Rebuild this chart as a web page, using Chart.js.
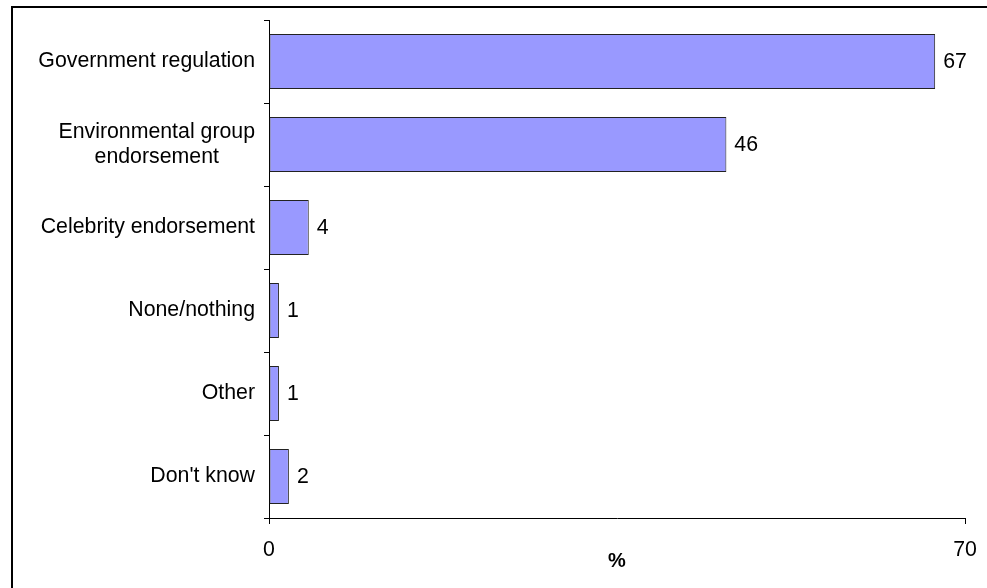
<!DOCTYPE html>
<html>
<head>
<meta charset="utf-8">
<script src="https://cdn.jsdelivr.net/npm/chart.js@4"></script>
<style>
  body { margin: 0; background: #fff; overflow: hidden; }
  #frame { position: absolute; left: 11px; top: 6px; width: 2000px; height: 2000px; border: 2px solid #000; }
  #wrap { position: absolute; left: 0; top: 0; width: 987px; height: 588px; }
</style>
</head>
<body>
<div id="frame"></div>
<div id="wrap"><canvas id="chart" width="987" height="588"></canvas></div>
<script>
var categories = [
  'Government regulation',
  ['Environmental group', 'endorsement'],
  'Celebrity endorsement',
  'None/nothing',
  'Other',
  "Don't know"
];
var values = [67, 46, 4, 1, 1, 2];
var xTicks = [0, 70];

var FONT = '"Liberation Sans", Arial, sans-serif';

// category names: single lines right aligned, wrapped ones centred on each other
var categoryLabels = {
  id: 'categoryLabels',
  afterDraw: function (chart) {
    var ctx = chart.ctx;
    var yScale = chart.scales.y;
    var rightX = 255;
    var lineH = 25;
    ctx.save();
    ctx.font = '21.3px ' + FONT;
    ctx.fillStyle = '#000';
    ctx.textBaseline = 'middle';
    for (var i = 0; i < categories.length; i++) {
      var y = yScale.getPixelForValue(i);
      var lines = Array.isArray(categories[i]) ? categories[i] : [categories[i]];
      if (lines.length == 1) {
        ctx.textAlign = 'right';
        ctx.fillText(lines[0], rightX, y);
      } else {
        var maxW = 0;
        lines.forEach(function (l) { maxW = Math.max(maxW, ctx.measureText(l).width); });
        ctx.textAlign = 'center';
        var startY = y - (lines.length - 1) * lineH / 2;
        for (var j = 0; j < lines.length; j++) {
          ctx.fillText(lines[j], rightX - maxW / 2, startY + j * lineH);
        }
      }
    }
    ctx.restore();
  }
};

// value printed just past the end of each bar
var valueLabels = {
  id: 'valueLabels',
  afterDatasetsDraw: function (chart) {
    var ctx = chart.ctx;
    var meta = chart.getDatasetMeta(0);
    ctx.save();
    ctx.font = '21.3px ' + FONT;
    ctx.fillStyle = '#000';
    ctx.textAlign = 'left';
    ctx.textBaseline = 'middle';
    meta.data.forEach(function (bar, i) {
      ctx.fillText(String(values[i]), bar.x + 8, bar.y + 1);
    });
    ctx.restore();
  }
};

var ctx = document.getElementById('chart').getContext('2d');
var myChart = new Chart(ctx, {
  type: 'bar',
  data: {
    labels: categories,
    datasets: [{
      data: values,
      backgroundColor: '#9999ff',
      borderColor: '#222',
      borderWidth: 1,
      borderSkipped: false,
      categoryPercentage: 1,
      barPercentage: 0.66
    }]
  },
  options: {
    indexAxis: 'y',
    responsive: false,
    animation: false,
    devicePixelRatio: 1,
    layout: { padding: { left: 0, right: 22, top: 20, bottom: 0 } },
    plugins: {
      legend: { display: false },
      tooltip: { enabled: false }
    },
    scales: {
      x: {
        min: xTicks[0],
        max: xTicks[xTicks.length - 1],
        afterBuildTicks: function (scale) {
          scale.ticks = xTicks.map(function (v) { return { value: v }; });
        },
        afterFit: function (scale) {
          scale.height = 70;
          // the "70" label may hang past the axis end, the frame has room for it
          scale.paddingRight = 0;
        },
        grid: { drawOnChartArea: false, drawTicks: true, tickLength: 6, tickColor: '#000' },
        border: { display: true, color: '#000', width: 1 },
        ticks: { color: '#000', font: { family: FONT, size: 21.3 }, padding: 13, maxRotation: 0 },
        title: {
          display: true,
          text: '%',
          color: '#000',
          font: { family: FONT, size: 20, weight: 'bold' },
          padding: { top: 0, bottom: 15 }
        }
      },
      y: {
        afterFit: function (scale) { scale.width = 269; },
        grid: { drawOnChartArea: false, drawTicks: true, tickLength: 5, tickColor: '#000', offset: true },
        border: { display: true, color: '#000', width: 1 },
        ticks: { display: false }
      }
    }
  },
  plugins: [categoryLabels, valueLabels]
});
</script>
</body>
</html>
